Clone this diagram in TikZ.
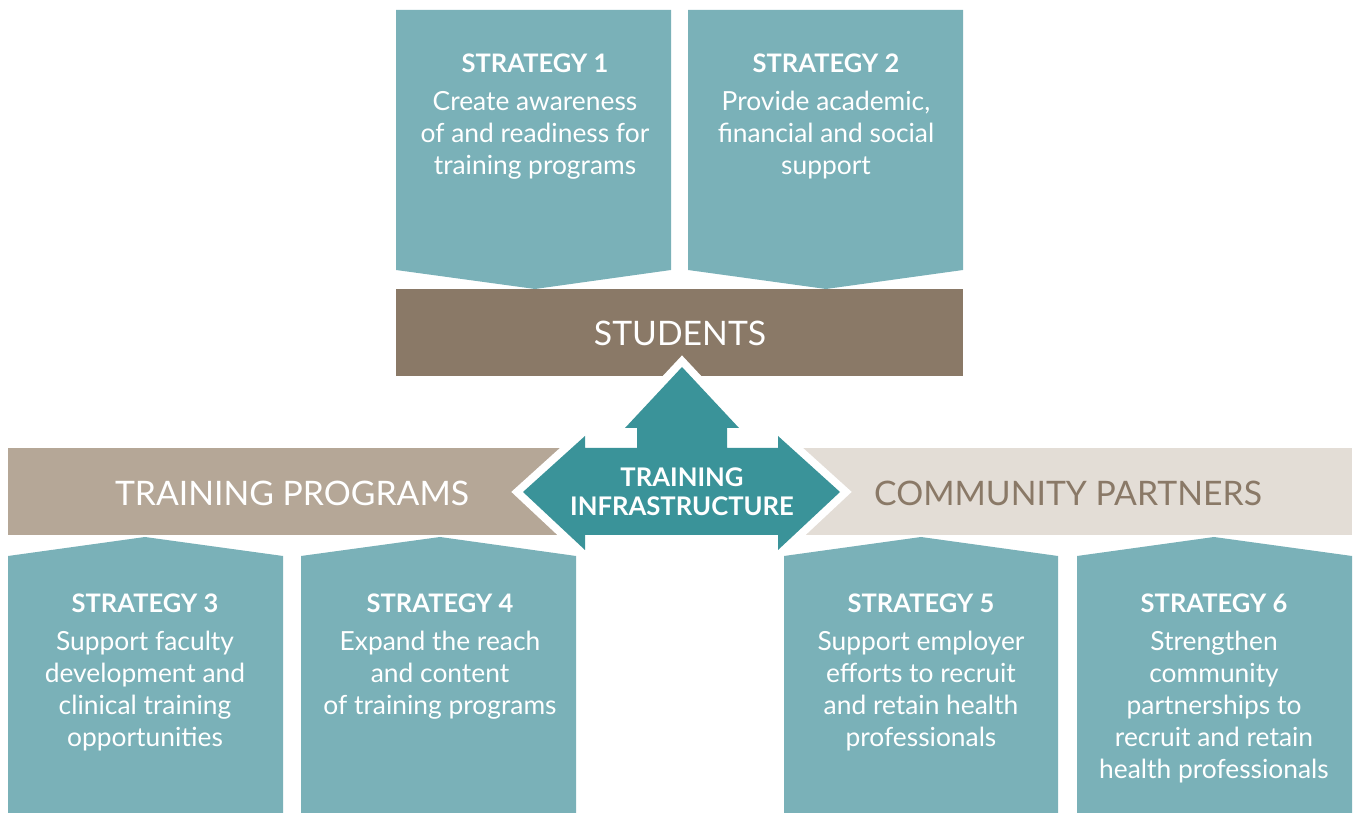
\documentclass[tikz,border=0pt]{standalone}
\usepackage{fontspec}
\setmainfont{Lato}
\usetikzlibrary{positioning,calc}
\definecolor{stratblue}{RGB}{122,177,184}
\definecolor{studbrown}{RGB}{138,121,103}
\definecolor{progtan}{RGB}{181,167,151}
\definecolor{partbeige}{RGB}{227,221,214}
\definecolor{infrateal}{RGB}{58,147,153}
\tikzstyle{stratbox}=[fill=stratblue]
\tikzstyle{strattitle}=[anchor=base,text=white,inner sep=0pt,font=\fontsize{14.5}{17}\selectfont\bfseries]
\tikzstyle{strattext}=[anchor=base,text=white,inner sep=0pt,align=center,font=\fontsize{15}{18.3}\selectfont]
\tikzstyle{bandlabel}=[anchor=base,inner sep=0pt,font=\fontsize{19.2}{22}\selectfont]

\begin{document}
\begin{tikzpicture}[x=0.02cm,y=-0.02cm]
\useasboundingbox (0,0) rectangle (1353,813);

% top strategies (text nodes sit on their last baseline)
\fill[stratbox] (396,10) -- (671,10) -- (671,270) -- (535,289) -- (396,270) -- cycle;
\fill[stratbox] (688,10) -- (963,10) -- (963,270) -- (826,289) -- (688,270) -- cycle;
\node[strattitle] (s1) at (535,73) {STRATEGY 1};
\node[strattext] (t1) at (535,175) {Create awareness\\of and readiness for\\training programs};
\node[strattitle] (s2) at (826,73) {STRATEGY 2};
\node[strattext] (t2) at (826,175) {Provide academic,\\financial and social\\support};

% bands
\fill[studbrown] (396,289) rectangle (963,376);
\node[bandlabel,text=white] (students) at (680,346) {STUDENTS};
\fill[progtan] (8,448) rectangle (600,535);
\node[bandlabel,text=white] (programs) at (292,506) {TRAINING PROGRAMS};
\fill[partbeige] (760,448) rectangle (1352,535);
\node[bandlabel,text=studbrown] (partners) at (1068,506) {COMMUNITY PARTNERS};

% bottom strategies
\fill[stratbox] (8,556) -- (145,537) -- (283,556) -- (283,813) -- (8,813) -- cycle;
\fill[stratbox] (301,556) -- (440,537) -- (576,556) -- (576,813) -- (301,813) -- cycle;
\fill[stratbox] (784,556) -- (921,537) -- (1058,556) -- (1058,813) -- (784,813) -- cycle;
\fill[stratbox] (1077,556) -- (1214,537) -- (1352,556) -- (1352,813) -- (1077,813) -- cycle;
\node[strattitle] (s3) at (145,613) {STRATEGY 3};
\node[strattext] (t3) at (145,747) {Support faculty\\development and\\clinical training\\opportunities};
\node[strattitle] (s4) at (440,613) {STRATEGY 4};
\node[strattext] (t4) at (440,715) {Expand the reach\\and content\\of training programs};
\node[strattitle] (s5) at (921,613) {STRATEGY 5};
\node[strattext] (t5) at (921,747) {Support employer\\efforts to recruit\\and retain health\\professionals};
\node[strattitle] (s6) at (1214,613) {STRATEGY 6};
\node[strattext] (t6) at (1214,779) {Strengthen\\community\\partnerships to\\recruit and retain\\health professionals};

% infrastructure arrow
\path[draw=white,line width=9pt,fill=white,miter limit=4]
  (682,367) -- (739,428) -- (727,428) -- (727,448) -- (778,448) -- (778,436) -- (840,492)
  -- (778,550) -- (778,535) -- (585,535) -- (585,550) -- (523,492) -- (585,436)
  -- (585,448) -- (637,448) -- (637,428) -- (625,428) -- cycle;
\fill[infrateal]
  (682,367) -- (739,428) -- (727,428) -- (727,448) -- (778,448) -- (778,436) -- (840,492)
  -- (778,550) -- (778,535) -- (585,535) -- (585,550) -- (523,492) -- (585,436)
  -- (585,448) -- (637,448) -- (637,428) -- (625,428) -- cycle;
\node[anchor=base,text=white,inner sep=0pt,align=center,font=\fontsize{14.6}{17}\selectfont\bfseries] (infra) at (682,516) {TRAINING\\INFRASTRUCTURE};
\end{tikzpicture}
\end{document}
